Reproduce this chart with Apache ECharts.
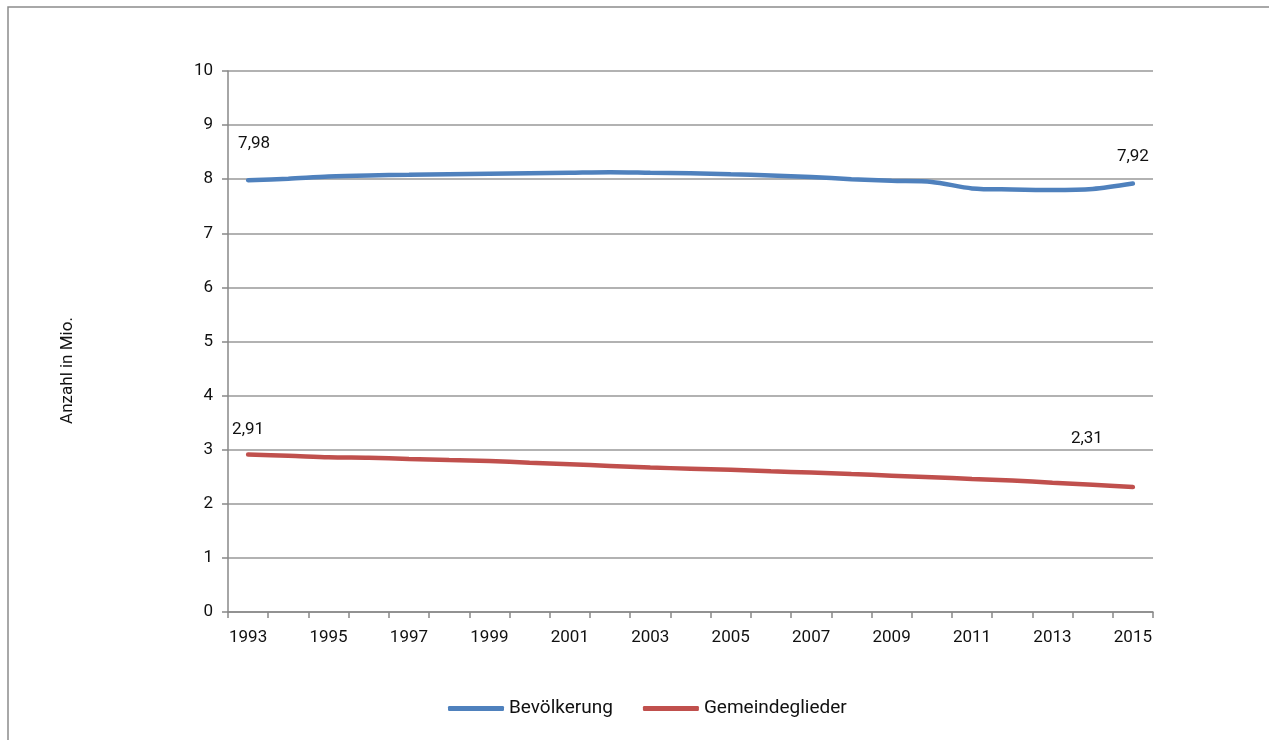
<!DOCTYPE html>
<html>
<head>
<meta charset="utf-8">
<script src="https://cdn.jsdelivr.net/npm/echarts@6/dist/echarts.min.js"></script>
<style>
  html, body { margin: 0; padding: 0; background: #fff; }
  #chart { width: 1269px; height: 740px; }
</style>
</head>
<body>
<div id="chart"></div>
<script>
const years = ['1993', '1994', '1995', '1996', '1997', '1998', '1999', '2000', '2001', '2002', '2003',
  '2004', '2005', '2006', '2007', '2008', '2009', '2010', '2011', '2012', '2013', '2014', '2015'];
const bevoelkerung = [7.98, 8.01, 8.05, 8.07, 8.08, 8.09, 8.10, 8.11, 8.12, 8.13, 8.12,
  8.11, 8.09, 8.07, 8.04, 8.00, 7.97, 7.95, 7.83, 7.81, 7.80, 7.82, 7.92];
const gemeindeglieder = [2.91, 2.89, 2.86, 2.85, 2.83, 2.81, 2.79, 2.76, 2.73, 2.70, 2.67,
  2.65, 2.63, 2.60, 2.58, 2.55, 2.52, 2.49, 2.46, 2.43, 2.39, 2.35, 2.31];
const yTicks = [0, 1, 2, 3, 4, 5, 6, 7, 8, 9, 10];

const font = 'Roboto, "Open Sans", sans-serif';
const fmt = v => v.toFixed(2).replace('.', ',');

// label only first and last point, each with its own offset
function withEndLabels(values, firstOffset, lastOffset) {
  return values.map((v, i) => {
    if (i === 0 || i === values.length - 1) {
      return {
        value: v,
        label: {
          show: true,
          position: 'top',
          offset: i === 0 ? firstOffset : lastOffset,
          formatter: p => fmt(p.value),
          fontFamily: font,
          fontSize: 17,
          color: '#111'
        }
      };
    }
    return v;
  });
}

const myChart = echarts.init(document.getElementById('chart'));
const option = {
  backgroundColor: '#fff',
  animation: false,
  graphic: [{
    type: 'polyline',
    shape: { points: [[8, 745], [8, 7], [1275, 7]] },
    style: { stroke: '#8c8c8c', lineWidth: 1.5, fill: null }
  }],
  grid: { left: 228, right: 116, top: 71, bottom: 128 },
  legend: {
    bottom: 17,
    left: 443,
    itemWidth: 56,
    itemHeight: 5,
    itemGap: 30,
    icon: 'roundRect',
    textStyle: { fontFamily: font, fontSize: 19, color: '#111' },
    data: ['Bevölkerung', 'Gemeindeglieder']
  },
  xAxis: {
    type: 'category',
    data: years,
    boundaryGap: true,
    axisLine: { lineStyle: { color: '#888', width: 1.5 } },
    axisTick: { show: true, interval: 0, length: 6, lineStyle: { color: '#888', width: 1.5 } },
    axisLabel: { interval: 1, margin: 17, fontFamily: font, fontSize: 17, color: '#111' },
    splitLine: { show: false }
  },
  yAxis: {
    type: 'value',
    min: yTicks[0],
    max: yTicks[yTicks.length - 1],
    interval: 1,
    name: 'Anzahl in Mio.',
    nameLocation: 'middle',
    nameGap: 152,
    nameRotate: 90,
    nameTextStyle: { fontFamily: font, fontSize: 17, color: '#111', padding: [0, 0, 0, -58] },
    axisLine: { show: true, lineStyle: { color: '#888', width: 1.5 } },
    axisTick: { show: true, length: 6, lineStyle: { color: '#888', width: 1.5 } },
    axisLabel: { margin: 15, fontFamily: font, fontSize: 17, color: '#111' },
    splitLine: { show: true, lineStyle: { color: '#999', width: 1.5 } }
  },
  series: [
    {
      name: 'Bevölkerung',
      type: 'line',
      data: withEndLabels(bevoelkerung, [6, -23], [0, -13]),
      smooth: 0.3,
      showSymbol: true,
      symbol: 'circle',
      symbolSize: 0.1,
      lineStyle: { color: '#4F81BD', width: 4.5, cap: 'round' },
      itemStyle: { color: '#4F81BD' }
    },
    {
      name: 'Gemeindeglieder',
      type: 'line',
      data: withEndLabels(gemeindeglieder, [0, -11], [-46, -35]),
      smooth: 0.3,
      showSymbol: true,
      symbol: 'circle',
      symbolSize: 0.1,
      lineStyle: { color: '#C0504D', width: 4.5, cap: 'round' },
      itemStyle: { color: '#C0504D' }
    }
  ]
};
myChart.setOption(option);
</script>
</body>
</html>
